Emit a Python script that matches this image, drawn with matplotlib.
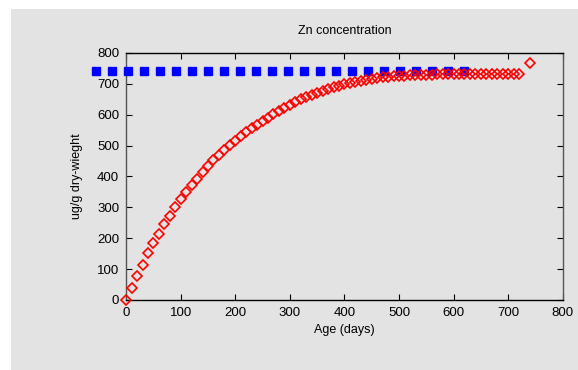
import matplotlib
matplotlib.use("Agg")
import matplotlib.pyplot as plt
from matplotlib.patches import Rectangle

plt.rcParams['font.family'] = ['Liberation Sans', 'DejaVu Sans']

# Zn concentration (red diamonds), every 10 days, plus a last point at 740
age_days = list(range(0, 721, 10)) + [740]
zn_conc = [0, 40, 78, 114, 151, 184, 214, 245, 272, 300,
           326, 349, 371, 392, 413, 433, 452, 470, 486, 501,
           516, 530, 544, 556, 568, 580, 591, 602, 613, 623,
           632, 641, 650, 658, 665, 672, 678, 684, 689, 694,
           699, 703, 707, 710, 714, 717, 719, 721, 723, 725,
           726, 727, 728, 729, 729, 730, 730, 731, 731, 731,
           731, 731, 731, 731, 731, 731, 731, 731, 731, 731,
           731, 731, 731, 768]

# reference level (blue squares)
ref_age = [-55, -26, 3, 33, 62, 91, 120, 150, 179, 208, 238, 267,
           296, 326, 355, 384, 414, 443, 472, 502, 531, 560, 590, 619]
ref_conc = [743] * len(ref_age)

bg = '#e3e3e3'

fig = plt.figure(figsize=(5.78, 3.70), dpi=100)
fig.patch.set_facecolor('white')
fig.patches.append(Rectangle((11 / 578, 0), 1 - 11 / 578, 1 - 9 / 370,
                             transform=fig.transFigure, facecolor=bg,
                             edgecolor='none', zorder=-10))

ax = fig.add_axes([0.2183, 0.1892, 0.9735 - 0.2183, 0.8568 - 0.1892])
ax.set_facecolor(bg)

ax.plot(ref_age, ref_conc, linestyle='none', marker='s', markersize=5.4,
        color='#0000ff', clip_on=False, zorder=3)
ax.plot(age_days, zn_conc, linestyle='none', marker='D', markersize=4.6,
        markerfacecolor='none', markeredgecolor='#ff0000', markeredgewidth=1.2,
        clip_on=False, zorder=4)

ax.set_xlim(0, 800)
ax.set_ylim(0, 800)
ax.set_xticks(range(0, 801, 100))
ax.set_yticks(range(0, 801, 100))
ax.tick_params(direction='in', top=True, right=True, length=4.5, width=0.8,
               labelsize=9.5, pad=5)

for side in ['top', 'bottom']:
    ax.spines[side].set_color('black')
for side in ['left', 'right']:
    ax.spines[side].set_color('#555555')
for sp in ax.spines.values():
    sp.set_linewidth(1.0)

ax.set_title('Zn concentration', fontsize=9, pad=14)
ax.set_xlabel('Age (days)', fontsize=9, labelpad=4)
ax.set_ylabel('ug/g dry-wieght', fontsize=9, labelpad=10)

fig.savefig('out.png', dpi=100, facecolor=fig.get_facecolor())
